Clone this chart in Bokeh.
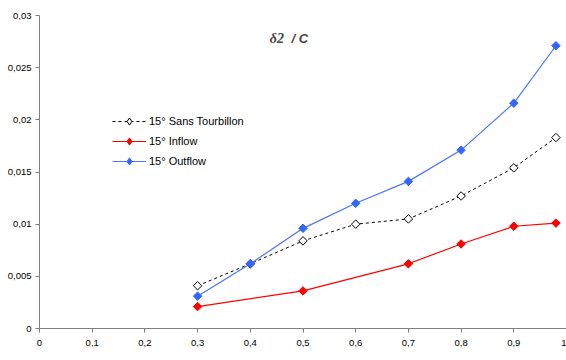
from bokeh.plotting import figure
from bokeh.models import FixedTicker, Label, Legend, LegendItem
from bokeh.embed import file_html
from bokeh.resources import INLINE
import math

# Data
x_sans = [0.3, 0.4, 0.5, 0.6, 0.7, 0.8, 0.9, 0.98]
y_sans = [0.0041, 0.0062, 0.0084, 0.0100, 0.0105, 0.0127, 0.0154, 0.0183]

x_inflow = [0.3, 0.5, 0.7, 0.8, 0.9, 0.98]
y_inflow = [0.0021, 0.0036, 0.0062, 0.0081, 0.0098, 0.0101]

x_outflow = [0.3, 0.4, 0.5, 0.6, 0.7, 0.8, 0.9, 0.98]
y_outflow = [0.0031, 0.0062, 0.0096, 0.0120, 0.0141, 0.0171, 0.0216, 0.0271]

series_names = ["15° Sans Tourbillon", "15° Inflow", "15° Outflow"]

x_ticks = [0, 0.1, 0.2, 0.3, 0.4, 0.5, 0.6, 0.7, 0.8, 0.9, 1]
x_tick_labels = ["0", "0,1", "0,2", "0,3", "0,4", "0,5", "0,6", "0,7", "0,8", "0,9", "1"]
y_ticks = [0, 0.005, 0.01, 0.015, 0.02, 0.025, 0.03]
y_tick_labels = ["0", "0,005", "0,01", "0,015", "0,02", "0,025", "0,03"]

title_main = "δ2"
title_rest = "/ C"
x_label = "X/C"

FONT = "Liberation Sans"

p = figure(width=566, height=360, output_backend="svg", toolbar_location=None,
           x_range=(0, 1), y_range=(0, 0.03),
           min_border_left=39, min_border_right=0, min_border_top=15, min_border_bottom=32)
p.outline_line_color = None
p.xgrid.visible = False
p.ygrid.visible = False
p.background_fill_color = "white"
p.border_fill_color = "white"

for ax in (p.xaxis[0], p.yaxis[0]):
    ax.axis_line_color = "#808080"
    ax.major_tick_line_color = "#808080"
    ax.major_tick_out = 4
    ax.major_tick_in = 0
    ax.minor_tick_line_color = None
    ax.major_label_text_font = FONT
    ax.major_label_text_font_size = "9.5px"
    ax.major_label_text_color = "black"

p.xaxis[0].ticker = FixedTicker(ticks=x_ticks)
p.xaxis[0].major_label_overrides = dict(zip(x_ticks, x_tick_labels))
p.xaxis[0].major_label_standoff = 7
p.yaxis[0].ticker = FixedTicker(ticks=y_ticks)
p.yaxis[0].major_label_overrides = dict(zip(y_ticks, y_tick_labels))
p.yaxis[0].major_label_standoff = 4

ang = math.pi / 4
MS = 6

l1 = p.line(x_sans, y_sans, line_color="black", line_width=1, line_dash="3 3")
s1 = p.scatter(x_sans, y_sans, marker="square", angle=ang, size=MS,
               line_color="black", fill_color="white", line_width=1)
l2 = p.line(x_inflow, y_inflow, line_color="#FF0000", line_width=1.2)
s2 = p.scatter(x_inflow, y_inflow, marker="square", angle=ang, size=MS,
               line_color="#FF0000", fill_color="#FF0000")
l3 = p.line(x_outflow, y_outflow, line_color="#4A74FF", line_width=1.2)
s3 = p.scatter(x_outflow, y_outflow, marker="square", angle=ang, size=MS,
               line_color="#3366FF", fill_color="#3366FF")

# legend-only diamond markers, placed outside the visible ranges
d1 = p.scatter([-10], [-10], marker="diamond", line_color="black", fill_color="white", line_width=1)
d2 = p.scatter([-10], [-10], marker="diamond", line_color="#FF0000", fill_color="#FF0000")
d3 = p.scatter([-10], [-10], marker="diamond", line_color="#3366FF", fill_color="#3366FF")

legend = Legend(items=[
    LegendItem(label=series_names[0], renderers=[l1, d1]),
    LegendItem(label=series_names[1], renderers=[l2, d2]),
    LegendItem(label=series_names[2], renderers=[l3, d3]),
], location=(73, 158))
legend.border_line_color = None
legend.background_fill_alpha = 0
legend.padding = 0
legend.margin = 0
legend.spacing = 2
legend.label_height = 18
legend.glyph_height = 18
legend.glyph_width = 34
legend.label_standoff = 3
legend.label_text_font = FONT
legend.label_text_font_size = "11px"
legend.label_text_color = "black"
p.add_layout(legend, "center")

p.add_layout(Label(x=0.437, y=0.0278, text=title_main, text_font="Liberation Serif",
                   text_font_style="bold italic", text_font_size="14px",
                   text_baseline="middle", text_align="left"))
p.add_layout(Label(x=0.478, y=0.0278, text=title_rest, text_font=FONT,
                   text_font_style="bold italic", text_font_size="13px",
                   text_baseline="middle", text_align="left"))
p.add_layout(Label(x=0.5, y=-0.0019, text=x_label, text_font=FONT,
                   text_font_style="bold", text_font_size="10px",
                   text_baseline="top", text_align="center"))

open("out.html", "w").write(file_html(p, INLINE))
